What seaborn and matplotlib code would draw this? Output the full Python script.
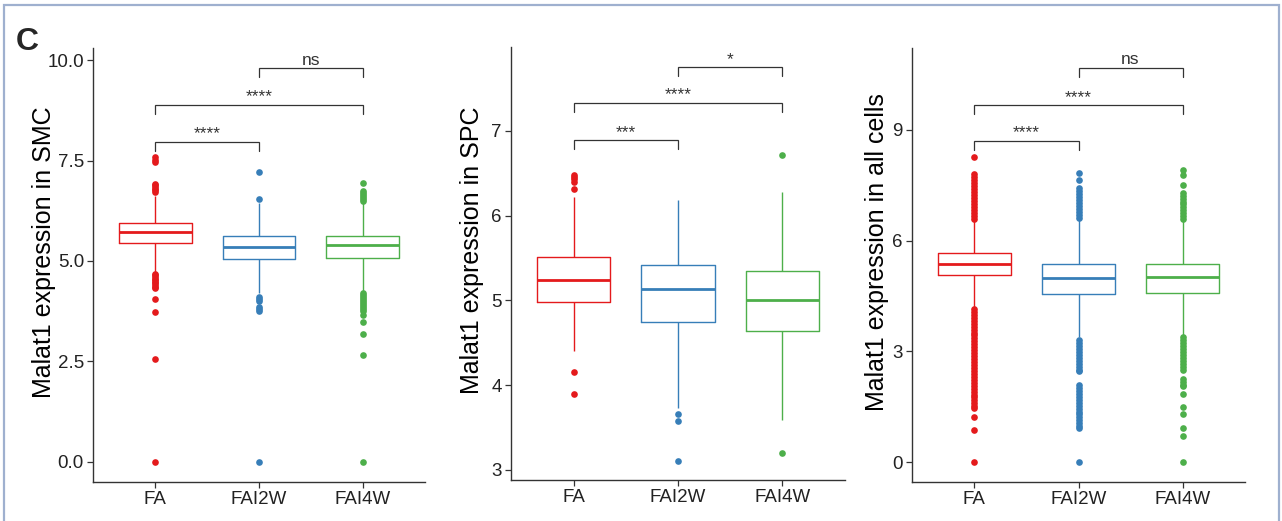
import matplotlib
matplotlib.use("Agg")
import matplotlib.pyplot as plt
from matplotlib.patches import Rectangle
import pandas as pd
import seaborn as sns

groups = ["FA", "FAI2W", "FAI4W"]
colors = ["#E41A1C", "#377EB8", "#4DAF4A"]
pairs = [(0, 1), (0, 2), (1, 2)]

# ---- SMC ----
smc_q1 = [5.45, 5.05, 5.07]
smc_med = [5.72, 5.35, 5.40]
smc_q3 = [5.95, 5.62, 5.62]
smc_wlo = [4.72, 4.20, 4.25]
smc_whi = [6.62, 6.44, 6.44]
smc_out = [
    [0.0, 2.56, 3.73, 4.05, 4.32, 4.36, 4.40, 4.44, 4.48, 4.52, 4.56, 4.60, 4.64, 4.68,
     6.72, 6.76, 6.80, 6.84, 6.88, 6.92, 7.46, 7.52, 7.58],
    [0.0, 3.75, 3.80, 3.85, 4.00, 4.05, 4.10, 6.54, 7.21],
    [0.0, 2.66, 3.18, 3.48, 3.65, 3.75, 3.80, 3.85, 3.90, 3.95, 4.00, 4.05, 4.10, 4.15, 4.20,
     6.50, 6.55, 6.60, 6.65, 6.70, 6.75, 6.94],
]
smc_sig = ["****", "****", "ns"]
smc_bracket = [7.96, 8.88, 9.80]

# ---- SPC ----
spc_q1 = [4.98, 4.74, 4.64]
spc_med = [5.24, 5.13, 5.01]
spc_q3 = [5.51, 5.42, 5.35]
spc_wlo = [4.40, 3.73, 3.59]
spc_whi = [6.22, 6.18, 6.28]
spc_out = [
    [3.90, 4.15, 6.32, 6.40, 6.43, 6.46, 6.48],
    [3.11, 3.58, 3.66],
    [3.20, 6.72],
]
spc_sig = ["***", "****", "*"]
spc_bracket = [6.89, 7.33, 7.75]

# ---- all cells ----
all_q1 = [5.07, 4.55, 4.58]
all_med = [5.37, 4.98, 5.01]
all_q3 = [5.66, 5.37, 5.37]
all_wlo = [4.20, 3.38, 3.42]
all_whi = [6.54, 6.56, 6.54]
all_out = [
    [0.0, 0.87, 1.22, 1.46, 1.51, 1.59, 1.67, 1.75, 1.83, 1.91, 1.99, 2.07, 2.15, 2.23, 2.31,
     2.39, 2.47, 2.55, 2.63, 2.71, 2.79, 2.87, 2.95, 3.03, 3.11, 3.19, 3.27, 3.35, 3.43, 3.51,
     3.59, 3.67, 3.75, 3.83, 3.91, 3.99, 4.07, 4.15,
     6.60, 6.68, 6.76, 6.84, 6.92, 7.00, 7.08, 7.16, 7.24, 7.32, 7.40, 7.48, 7.56, 7.64, 7.72,
     7.80, 8.27],
    [0.0, 0.92, 0.97, 1.05, 1.13, 1.21, 1.29, 1.37, 1.45, 1.53, 1.61, 1.69, 1.77, 1.85, 1.93,
     2.01, 2.09, 2.47, 2.50, 2.58, 2.66, 2.74, 2.82, 2.90, 2.98, 3.06, 3.14, 3.22, 3.30,
     6.62, 6.70, 6.78, 6.86, 6.94, 7.02, 7.10, 7.18, 7.26, 7.34, 7.42, 7.64, 7.83],
    [0.0, 0.70, 0.92, 1.30, 1.49, 1.84, 2.05, 2.10, 2.18, 2.25, 2.49, 2.58, 2.66, 2.74, 2.82,
     2.90, 2.98, 3.06, 3.14, 3.22, 3.30, 3.38,
     6.58, 6.66, 6.74, 6.82, 6.90, 6.98, 7.06, 7.14, 7.22, 7.29, 7.51, 7.78, 7.91],
]
all_sig = ["****", "****", "ns"]
all_bracket = [8.70, 9.67, 10.68]


def build_frame(q1, med, q3, wlo, whi, out, reps=400):
    # repeat the read quartiles so seaborn's own box stats land on them
    rows = []
    for i, g in enumerate(groups):
        vals = list(out[i]) + [wlo[i], whi[i]] + [q1[i]] * reps + [med[i]] * reps + [q3[i]] * reps
        rows += [(g, v) for v in vals]
    return pd.DataFrame(rows, columns=["group", "value"])


sns.set_theme(style="ticks")
plt.rcParams["font.family"] = ["Liberation Sans", "DejaVu Sans"]

W, H = 1282, 521
fig = plt.figure(figsize=(W / 100, H / 100), dpi=100)


def add_ax(l, t, r, b):
    return fig.add_axes([l / W, (H - b) / H, (r - l) / W, (b - t) / H])


def draw_panel(ax, df, ylabel, ylim, yticks, fmt, sig, brk, drop, label_x):
    sns.boxplot(data=df, x="group", y="value", hue="group", order=groups, hue_order=groups,
                palette=colors, fill=False, width=0.7, linewidth=1.0, showcaps=False,
                medianprops=dict(linewidth=2.0),
                flierprops=dict(marker="o", markersize=4.8, markeredgewidth=0),
                legend=False, ax=ax)
    for line in ax.lines:
        if line.get_marker() not in (None, "None", ""):
            line.set_markerfacecolor(line.get_markeredgecolor())
    ax.set_xlim(-0.6, 2.6)
    ax.set_ylim(*ylim)
    ax.set_yticks(yticks)
    ax.set_yticklabels([fmt.format(v) for v in yticks])
    ax.set_xlabel("")
    ax.set_ylabel(ylabel, fontsize=18, color="black", va="center")
    ax.yaxis.set_label_coords(label_x, 0.53)
    sns.despine(ax=ax)
    for s in ["left", "bottom"]:
        ax.spines[s].set_color("#333333")
        ax.spines[s].set_linewidth(1.0)
    ax.tick_params(length=4, width=0.9, color="#333333", labelsize=13.5,
                   labelcolor="#222222", pad=2.5)
    for (a, b), lab, y in zip(pairs, sig, brk):
        ax.plot([a, a, b, b], [y - drop, y, y, y - drop], color="#333333", lw=0.9,
                solid_joinstyle="miter")
        ax.annotate(lab, xy=((a + b) / 2, y), xytext=(0, 2.5), textcoords="offset points",
                    ha="center", va="baseline", fontsize=12.5, color="#333333")


ax1 = add_ax(93, 48, 425, 482)
draw_panel(ax1, build_frame(smc_q1, smc_med, smc_q3, smc_wlo, smc_whi, smc_out),
           "Malat1 expression in SMC", (-0.5, 10.3), [0, 2.5, 5, 7.5, 10], "{:.1f}",
           smc_sig, smc_bracket, 0.22, -0.148)

ax2 = add_ax(511, 47, 845, 480)
draw_panel(ax2, build_frame(spc_q1, spc_med, spc_q3, spc_wlo, spc_whi, spc_out),
           "Malat1 expression in SPC", (2.88, 7.99), [3, 4, 5, 6, 7], "{:d}",
           spc_sig, spc_bracket, 0.105, -0.117)

ax3 = add_ax(912, 48, 1245, 482)
draw_panel(ax3, build_frame(all_q1, all_med, all_q3, all_wlo, all_whi, all_out),
           "Malat1 expression in all cells", (-0.54, 11.22), [0, 3, 6, 9], "{:d}",
           all_sig, all_bracket, 0.24, -0.105)

fig.text(16 / W, (H - 50) / H, "C", fontsize=23, fontweight="bold", ha="left", va="baseline")
fig.patches.append(Rectangle((4 / W, -0.02), 1275 / W, (H - 5) / H + 0.02, fill=False,
                             edgecolor="#9fb0cf", lw=1.6, transform=fig.transFigure))

fig.savefig("out.png", dpi=100)
